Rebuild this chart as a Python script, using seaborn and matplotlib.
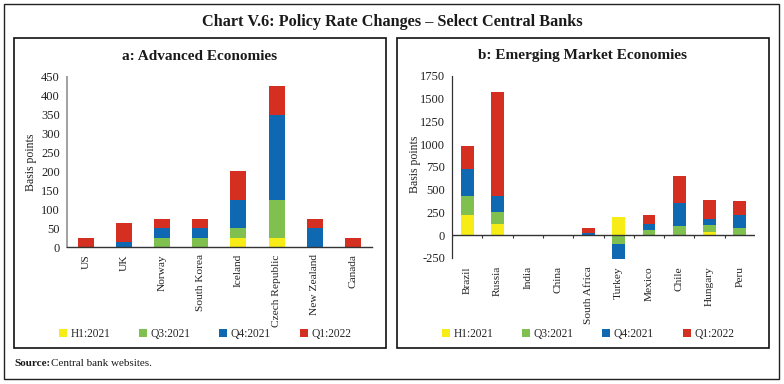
import numpy as np
import pandas as pd
import matplotlib
matplotlib.use("Agg")
import matplotlib.pyplot as plt
from matplotlib.patches import Patch, Rectangle
import seaborn as sns

# ---------------- data ----------------
series = ["H1:2021", "Q3:2021", "Q4:2021", "Q1:2022"]

ae_countries = ["US", "UK", "Norway", "South Korea", "Iceland",
                "Czech Republic", "New Zealand", "Canada"]
ae_h1 = [0, 0, 0, 0, 25, 25, 0, 0]
ae_q3 = [0, 0, 25, 25, 25, 100, 0, 0]
ae_q4 = [0, 15, 25, 25, 75, 225, 50, 0]
ae_q1 = [25, 50, 25, 25, 75, 75, 25, 25]

eme_countries = ["Brazil", "Russia", "India", "China", "South Africa",
                 "Turkey", "Mexico", "Chile", "Hungary", "Peru"]
eme_h1 = [225, 125, 0, 0, 0, 200, 0, 0, 30, 0]
eme_q3 = [200, 125, 0, 0, 0, -100, 50, 100, 75, 75]
eme_q4 = [300, 175, 0, -5, 25, -400, 75, 250, 75, 150]
eme_q1 = [250, 1150, 0, -10, 50, 0, 100, 300, 200, 150]

ae_yticks = [0, 50, 100, 150, 200, 250, 300, 350, 400, 450]
eme_yticks = [-250, 0, 250, 500, 750, 1000, 1250, 1500, 1750]

colors = ["#F7EC16", "#80C04F", "#0F68B2", "#D42F20"]

# ---------------- style ----------------
sns.set_style("white")
plt.rcParams["font.family"] = ["Liberation Serif", "DejaVu Serif"]
plt.rcParams["axes.unicode_minus"] = False

W, H = 784, 384
fig = plt.figure(figsize=(W / 100, H / 100), dpi=100)


def fx(px):
    return px / W


def fy(py):
    return 1 - py / H


# outer frame and panel boxes
fig.patches.append(Rectangle((fx(4), fy(379)), fx(775), 375 / H, transform=fig.transFigure,
                             fill=False, lw=1.0, ec="#222222"))
for x0 in (14, 397):
    fig.patches.append(Rectangle((fx(x0), fy(348)), fx(372), 310 / H, transform=fig.transFigure,
                                 fill=False, lw=1.2, ec="#111111"))

fig.text(0.5, fy(22), "Chart V.6: Policy Rate Changes \u2013 Select Central Banks",
         ha="center", va="center", fontsize=11.7, fontweight="bold", color="#1a1a1a")
fig.text(fx(200), fy(56), "a: Advanced Economies", ha="center", va="center",
         fontsize=11, fontweight="bold", color="#1a1a1a")
fig.text(fx(583), fy(56), "b: Emerging Market Economies", ha="center", va="center",
         fontsize=11, fontweight="bold", color="#1a1a1a")
fig.text(fx(14), fy(364), "Source:", ha="left", va="center", fontsize=8,
         fontweight="bold", color="#1a1a1a")
fig.text(fx(51), fy(364), "Central bank websites.", ha="left", va="center", fontsize=8,
         color="#1a1a1a")


def stacked(ax, cats, layers):
    arr = np.array(layers, dtype=float)
    pos = np.cumsum(np.clip(arr, 0, None), axis=0)
    neg = np.cumsum(np.clip(arr, None, 0), axis=0)
    for k in range(len(layers) - 1, -1, -1):
        for cum in (pos, neg):
            df = pd.DataFrame({"country": cats, "value": cum[k]})
            sns.barplot(data=df, x="country", y="value", order=cats, color=colors[k],
                        saturation=1, width=0.42, ax=ax, linewidth=0, errorbar=None)


def style_axis(ax, cats, yticks, ylim, lab_x, lab_y):
    n = len(cats)
    ax.set_xlim(-0.5, n - 0.5)
    ax.set_ylim(*ylim)
    ax.set_yticks(yticks)
    ax.set_yticklabels([str(v) for v in yticks], fontsize=9, color="#222222")
    ax.set_ylabel("Basis points", fontsize=8.5, color="#222222")
    ax.yaxis.set_label_coords(lab_x, lab_y)
    ax.set_xlabel("")
    ax.set_xticks(range(n))
    ax.set_xticklabels(cats, rotation=90, fontsize=8.2, color="#222222", va="top")
    ax.tick_params(axis="x", which="major", length=0, pad=5)
    ax.set_xticks(np.arange(-0.5, n), minor=True)
    ax.tick_params(axis="y", length=3, width=0.8, color="#333333", direction="out", pad=2)
    for s in ("top", "right"):
        ax.spines[s].set_visible(False)


# ---------------- panel a ----------------
ax1 = fig.add_axes([fx(66.7), fy(247.3), fx(372 - 66.7), (247.3 - 76.7) / H])
stacked(ax1, ae_countries, [ae_h1, ae_q3, ae_q4, ae_q1])
style_axis(ax1, ae_countries, ae_yticks, (0, 450), -0.097, 0.5)
ax1.tick_params(axis="x", which="minor", length=3, width=0.8, color="#333333", direction="out")
ax1.spines["left"].set_color("#a0a0a0")
ax1.spines["left"].set_linewidth(1.4)
ax1.spines["bottom"].set_color("#333333")
ax1.spines["bottom"].set_linewidth(1.0)

# ---------------- panel b ----------------
scale = 159 / 1750
ylow = -265
ax2 = fig.add_axes([fx(452), fy(235 - ylow * scale), fx(755 - 452), (1750 - ylow) * scale / H])
stacked(ax2, eme_countries, [eme_h1, eme_q3, eme_q4, eme_q1])
style_axis(ax2, eme_countries, eme_yticks, (ylow, 1750), -0.102, 0.52)
ax2.spines["bottom"].set_visible(False)
ax2.spines["left"].set_bounds(-250, 1750)
ax2.spines["left"].set_color("#333333")
ax2.spines["left"].set_linewidth(0.9)
ax2.tick_params(axis="x", which="minor", length=0)
ax2.axhline(0, color="#333333", lw=1.0, zorder=5)
ax2.vlines(np.arange(-0.5, len(eme_countries)), -33, 0, color="#333333", lw=0.8, zorder=5)

# ---------------- legends ----------------
handles = [Patch(facecolor=c, edgecolor="none") for c in colors]
for ax, cx in ((ax1, 205), (ax2, 588)):
    ax.legend(handles, series, loc="center", bbox_to_anchor=(fx(cx), fy(334)),
              bbox_transform=fig.transFigure, ncol=4, frameon=False, fontsize=8.3,
              handlelength=0.7, handleheight=0.7, handletextpad=0.3, columnspacing=2.5,
              borderaxespad=0)

fig.savefig("out.png", dpi=100)
